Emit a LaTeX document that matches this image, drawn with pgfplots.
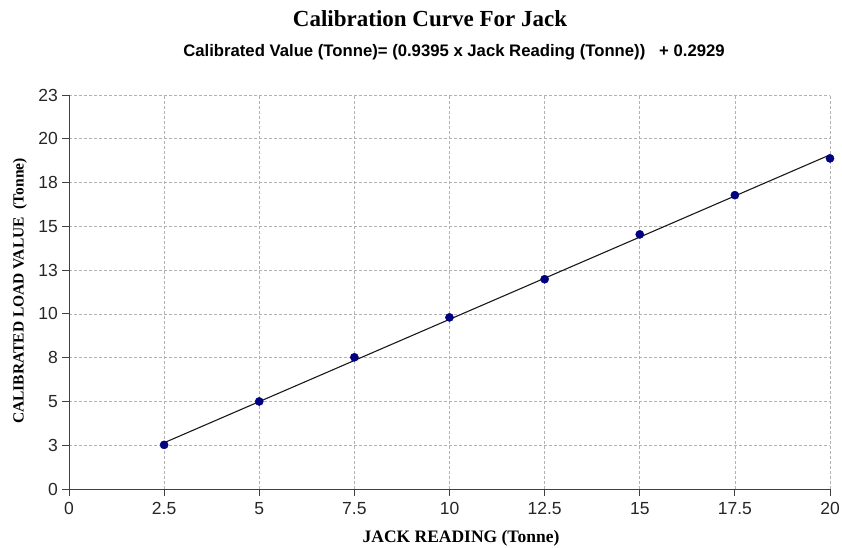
\documentclass[border=0pt]{standalone}
\usepackage{fontspec}
\setmainfont{Liberation Serif}
\setsansfont{Liberation Sans}
\usepackage{pgfplots}
\pgfplotsset{compat=1.18}
\definecolor{navy}{RGB}{0,0,128}
\begin{document}
\begin{tikzpicture}[x=1pt,y=1pt]
\useasboundingbox (-69,-58) rectangle (773,489);
\begin{axis}[
  at={(0,0)}, anchor=south west, scale only axis,
  width=761pt, height=394pt,
  xmin=0, xmax=20, ymin=0, ymax=22.5,
  xtick={0,2.5,5,7.5,10,12.5,15,17.5,20},
  xticklabels={0,2.5,5,7.5,10,12.5,15,17.5,20},
  ytick={0,2.5,5,7.5,10,12.5,15,17.5,20,22.5},
  yticklabels={0,3,5,8,10,13,15,18,20,23},
  axis x line*=bottom, axis y line*=left,
  axis line style={black!75, line width=0.9pt, -},
  grid=major,
  major grid style={dash pattern=on 3pt off 2pt, black!30, line width=0.6pt},
  tick align=outside, major tick length=6.5pt,
  tick style={black!75, line width=0.8pt},
  ticklabel style={font=\sffamily\fontsize{17.5}{17.5}\selectfont, text=black!85},
  yticklabel style={xshift=-1pt},
  xticklabel style={yshift=-3pt},
  clip=false,
]
\addplot[black!90, line width=1.1pt] coordinates {(2.5,2.6417) (20,19.0829)};
\addplot[only marks, mark=*, mark size=4.1pt, color=navy] coordinates {
  (2.5,2.52) (5,5.0) (7.5,7.52) (10,9.80) (12.5,11.98) (15,14.54) (17.5,16.78) (20,18.88)
};
\end{axis}
\node[font=\bfseries\fontsize{23}{23}\selectfont] at (361,470) {Calibration Curve For Jack};
\node[font=\sffamily\bfseries\fontsize{16.7}{16.7}\selectfont] at (385,437) {Calibrated Value (Tonne)= (0.9395 x Jack Reading (Tonne))\ \ \ + 0.2929};
\node[font=\bfseries\fontsize{17.5}{17.5}\selectfont] at (392,-49) {JACK READING (Tonne)};
\node[font=\bfseries\fontsize{15.5}{15.5}\selectfont, rotate=90] at (-49,198) {CALIBRATED LOAD VALUE\ \ (Tonne)};
\end{tikzpicture}
\end{document}
